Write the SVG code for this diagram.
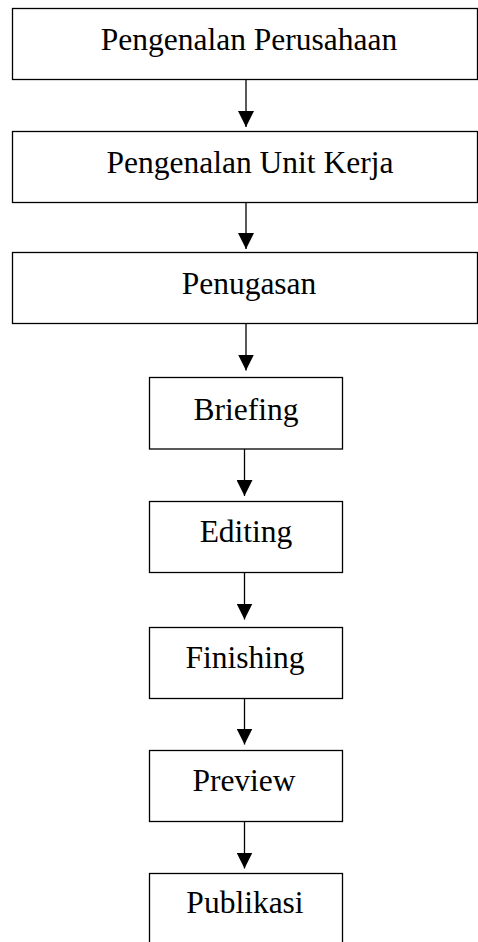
<svg xmlns="http://www.w3.org/2000/svg" width="478" height="942" viewBox="0 0 478 942">
<style>
.box{fill:#fff;stroke:#000;stroke-width:1.3}
.lbl{font-family:"Liberation Serif","Times New Roman",serif;font-size:31.5px;fill:#000;text-anchor:middle}
.conn{stroke:#000;stroke-width:1.3;fill:none}
</style>
<defs>
<marker id="ah" markerWidth="16" markerHeight="16" viewBox="0 0 16 16" refX="16" refY="8" orient="auto" markerUnits="userSpaceOnUse">
<path d="M0,0 L16,8 L0,16 Z" fill="#000"/>
</marker>
</defs>
<rect width="478" height="942" fill="#fff"/>
<g id="n1"><rect class="box" x="12.5" y="8.5" width="465" height="71"/><text class="lbl" x="249" y="49.5">Pengenalan Perusahaan</text></g>
<g id="n2"><rect class="box" x="12.5" y="131.5" width="465" height="71"/><text class="lbl" x="250" y="172.5">Pengenalan Unit Kerja</text></g>
<g id="n3"><rect class="box" x="12.5" y="252.5" width="465" height="71"/><text class="lbl" x="249" y="293.5">Penugasan</text></g>
<g id="n4"><rect class="box" x="149.5" y="377.5" width="193" height="71.5"/><text class="lbl" x="246" y="419.5">Briefing</text></g>
<g id="n5"><rect class="box" x="149.5" y="501.5" width="193" height="71"/><text class="lbl" x="246" y="542">Editing</text></g>
<g id="n6"><rect class="box" x="149.5" y="627.5" width="193" height="71"/><text class="lbl" x="245" y="668">Finishing</text></g>
<g id="n7"><rect class="box" x="149.5" y="750.5" width="193" height="71"/><text class="lbl" x="244" y="791">Preview</text></g>
<g id="n8"><rect class="box" x="149.5" y="873.5" width="193" height="90"/><text class="lbl" x="245" y="913">Publikasi</text></g>
<g id="connectors">
<line class="conn" x1="246" y1="79.5" x2="246" y2="127" marker-end="url(#ah)"/>
<line class="conn" x1="246" y1="202.5" x2="246" y2="249" marker-end="url(#ah)"/>
<line class="conn" x1="246" y1="323.5" x2="246" y2="370.5" marker-end="url(#ah)"/>
<line class="conn" x1="244.5" y1="449" x2="244.5" y2="496" marker-end="url(#ah)"/>
<line class="conn" x1="244.5" y1="572.5" x2="244.5" y2="619.5" marker-end="url(#ah)"/>
<line class="conn" x1="244.5" y1="698.5" x2="244.5" y2="744.5" marker-end="url(#ah)"/>
<line class="conn" x1="244.5" y1="821.5" x2="244.5" y2="868.5" marker-end="url(#ah)"/>
</g>
</svg>
